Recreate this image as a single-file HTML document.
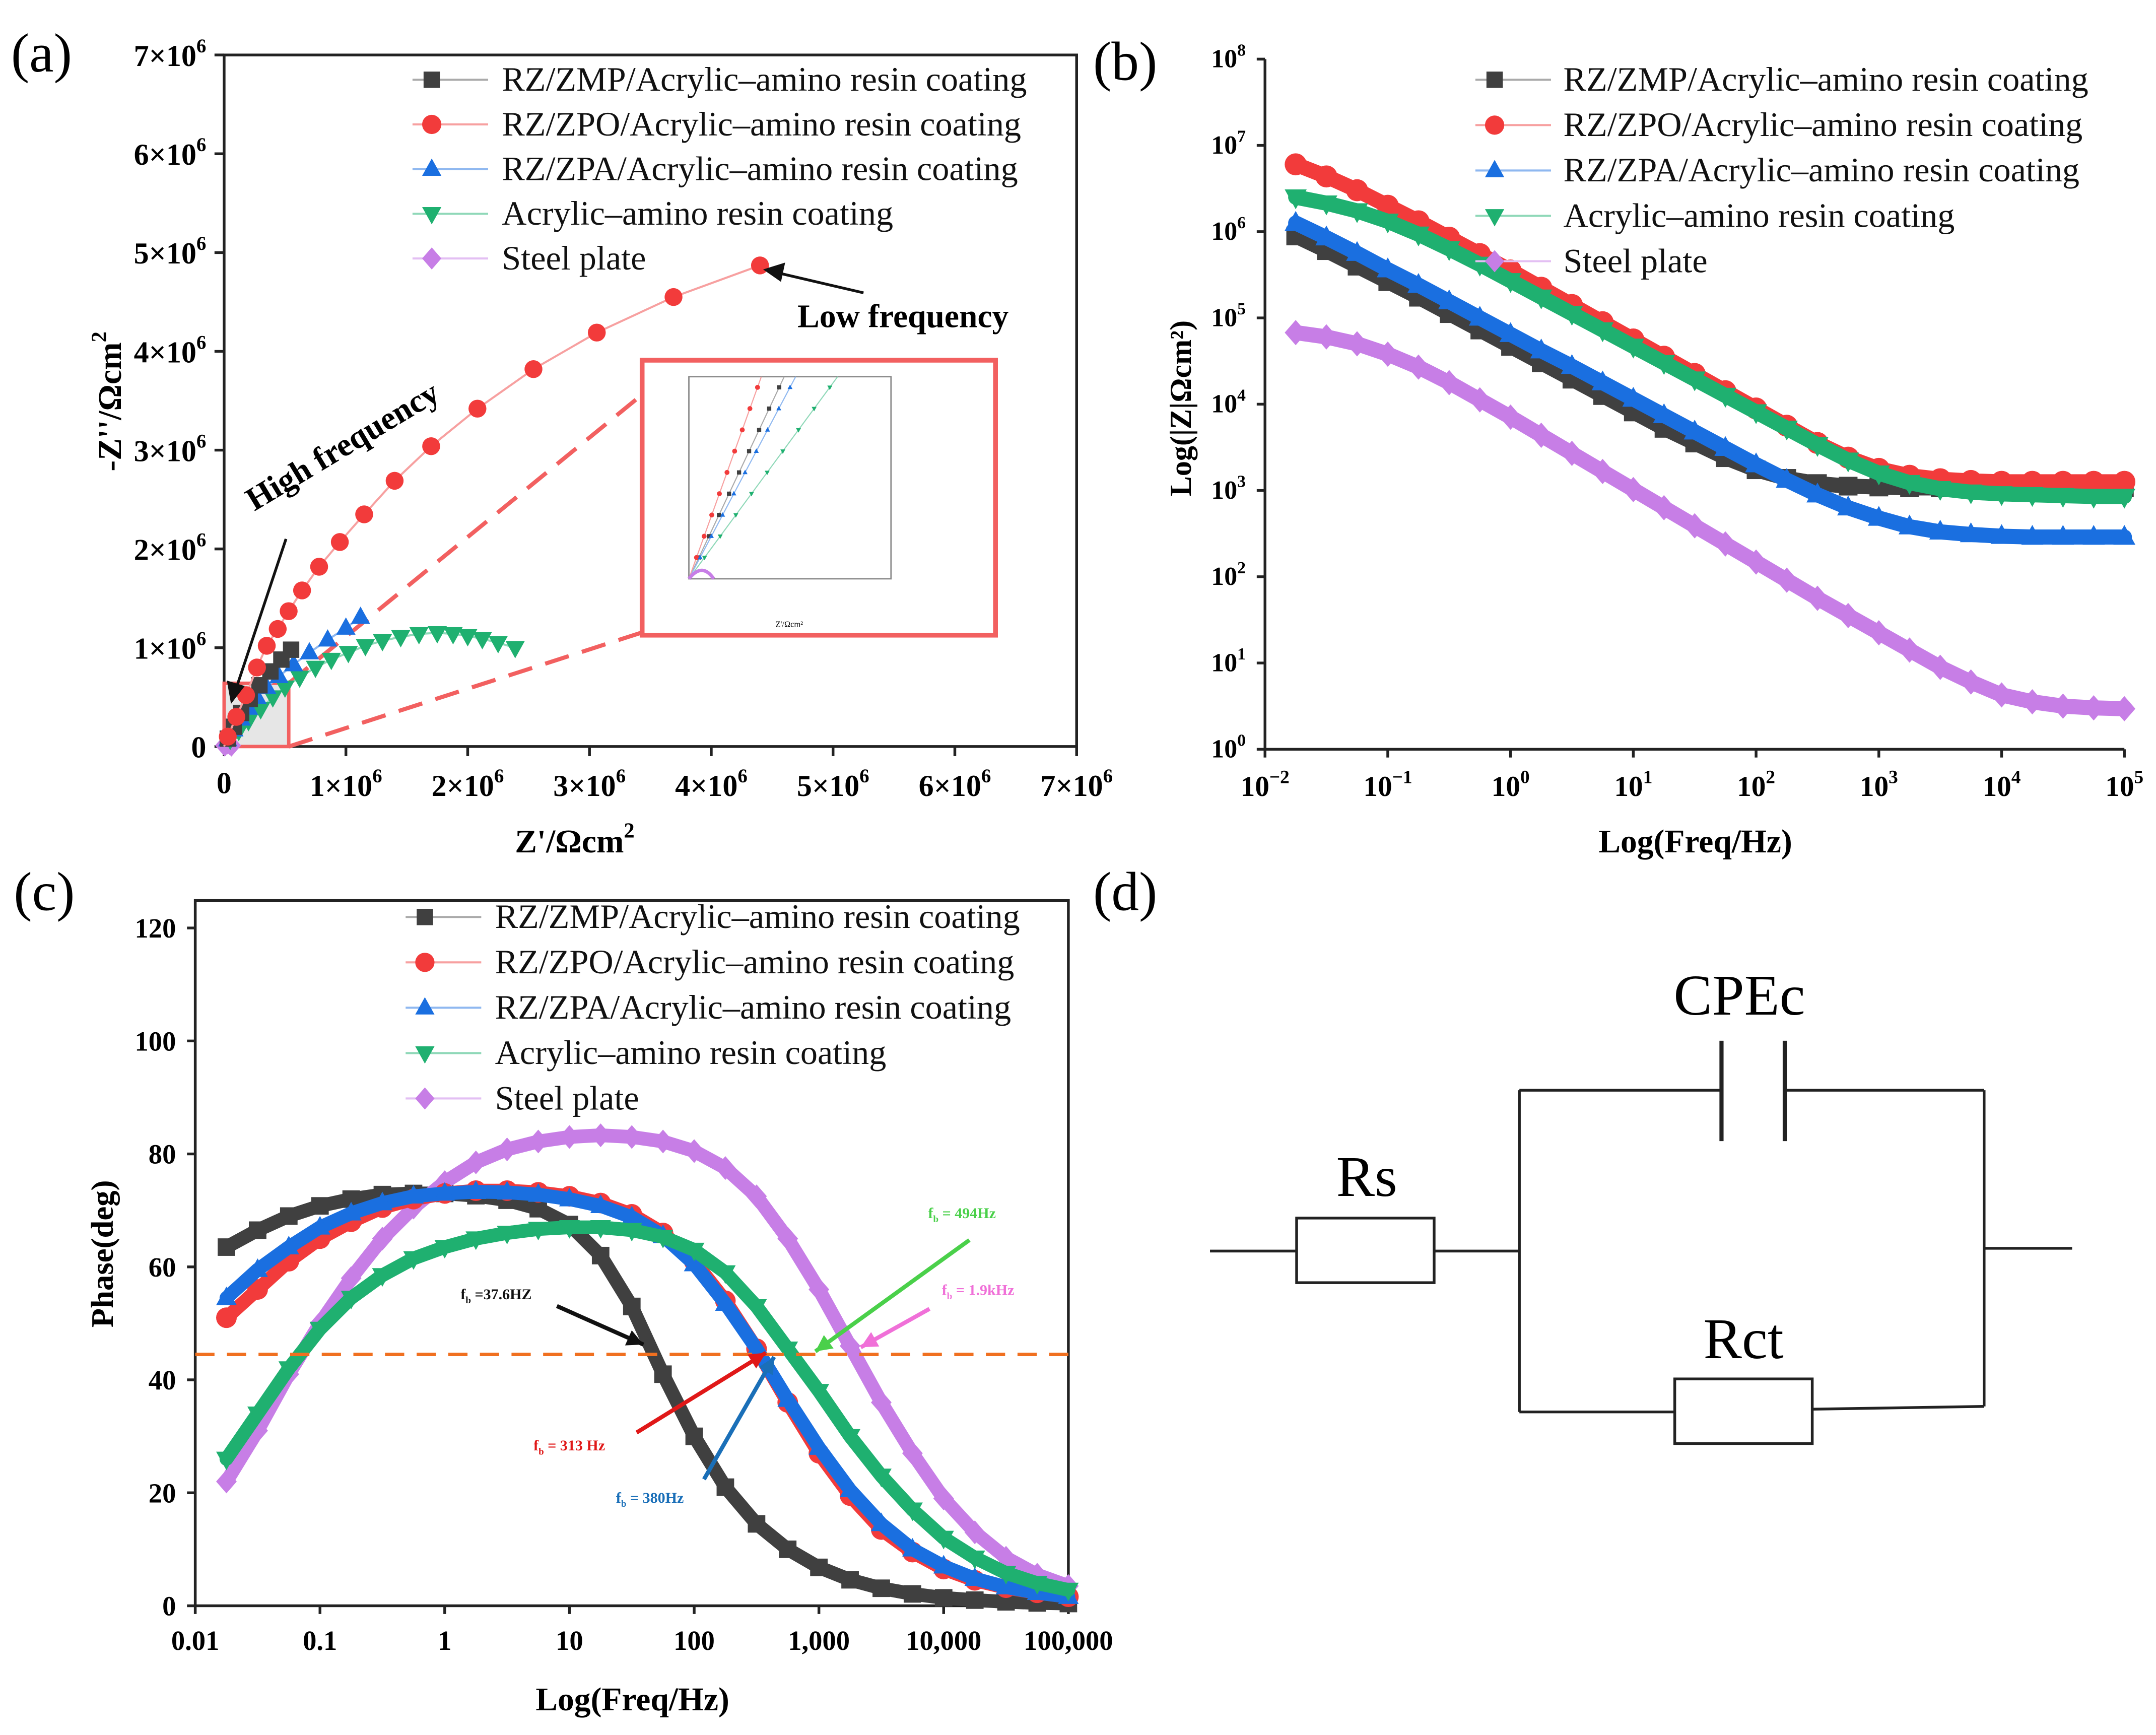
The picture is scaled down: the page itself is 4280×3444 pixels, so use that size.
<!DOCTYPE html>
<html><head><meta charset="utf-8"><style>
html,body{margin:0;padding:0;background:#fff}
svg{display:block}
text{font-family:"Liberation Serif",serif}
</style></head><body>
<svg id="chart" xmlns="http://www.w3.org/2000/svg" width="4280" height="3444" viewBox="0 0 1568 1262" preserveAspectRatio="none">
<rect x="0" y="0" width="1568" height="1262" fill="#fff"/>
<text x="8" y="52" font-size="40">(a)</text>
<text x="795" y="58" font-size="40">(b)</text>
<text x="10" y="662" font-size="40">(c)</text>
<text x="795" y="662" font-size="40">(d)</text>
<g stroke="#222" stroke-width="2" fill="none">
<line x1="880" y1="910" x2="943" y2="910"/>
<rect x="943" y="886" width="100" height="47"/>
<line x1="1043" y1="910" x2="1105" y2="910"/>
<line x1="1105" y1="793" x2="1105" y2="1027"/>
<line x1="1105" y1="793" x2="1252" y2="793"/>
<line x1="1252" y1="757" x2="1252" y2="830" stroke-width="3"/>
<line x1="1298" y1="757" x2="1298" y2="830" stroke-width="3"/>
<line x1="1298" y1="793" x2="1443" y2="793"/>
<line x1="1443" y1="793" x2="1443" y2="1023"/>
<line x1="1443" y1="908" x2="1507" y2="908"/>
<line x1="1105" y1="1027" x2="1218" y2="1027"/>
<rect x="1218" y="1003" width="100" height="47"/>
<line x1="1318" y1="1025" x2="1443" y2="1023"/>
</g>
<text x="1265" y="738" font-size="42" text-anchor="middle">CPEc</text>
<text x="994" y="870" font-size="42" text-anchor="middle">Rs</text>
<text x="1268" y="988" font-size="42" text-anchor="middle">Rct</text>
</svg>
<script>
// ---------- data ----------
// Panel (a) Nyquist, units of 1e6 ohm cm2
const nyqRedRe=[0.03,0.1,0.18,0.27,0.35,0.44,0.53,0.64,0.78,0.95,1.15,1.40,1.70,2.08,2.54,3.06,3.69,4.40];
const nyqRedIm=[0.1,0.3,0.52,0.8,1.02,1.19,1.37,1.58,1.82,2.07,2.35,2.69,3.04,3.42,3.82,4.19,4.55,4.87];
const nyqBlackRe=[0.03,0.08,0.14,0.21,0.29,0.38,0.47,0.55];
const nyqBlackIm=[0.08,0.2,0.34,0.48,0.62,0.76,0.88,0.98];
const nyqBlueRe=[0.03,0.08,0.14,0.2,0.27,0.35,0.45,0.57,0.7,0.85,1.0,1.12];
const nyqBlueIm=[0.07,0.17,0.28,0.39,0.5,0.6,0.71,0.83,0.95,1.08,1.2,1.31];
const nyqGreenRe=[0.05,0.12,0.2,0.3,0.4,0.5,0.62,0.75,0.88,1.02,1.16,1.3,1.45,1.6,1.75,1.88,2.0,2.12,2.25,2.39];
const nyqGreenIm=[0.07,0.16,0.26,0.38,0.5,0.6,0.7,0.8,0.88,0.95,1.02,1.07,1.11,1.14,1.15,1.14,1.12,1.09,1.05,1.0];
const nyqPurpleRe=[0.005,0.015,0.03,0.045,0.06];
const nyqPurpleIm=[0.01,0.025,0.03,0.025,0.01];
const nyqTicks=[0,1,2,3,4,5,6,7];

// Panels (b)/(c) frequency grid (log10 Hz)
const logFreq=[-1.75,-1.5,-1.25,-1,-0.75,-0.5,-0.25,0,0.25,0.5,0.75,1,1.25,1.5,1.75,2,2.25,2.5,2.75,3,3.25,3.5,3.75,4,4.25,4.5,4.75,5];
// Panel (b) log10|Z|
const bodeBlack=[5.95,5.78,5.6,5.42,5.24,5.05,4.86,4.67,4.48,4.29,4.1,3.91,3.72,3.55,3.38,3.24,3.14,3.08,3.05,3.04,3.03,3.03,3.03,3.03,3.03,3.03,3.03,3.03];
const bodeRed=[6.78,6.64,6.48,6.3,6.12,5.93,5.74,5.55,5.35,5.15,4.95,4.75,4.55,4.35,4.15,3.95,3.75,3.55,3.38,3.25,3.17,3.13,3.11,3.1,3.1,3.1,3.1,3.1];
const bodeBlue=[6.1,5.93,5.75,5.56,5.38,5.19,5.0,4.81,4.62,4.44,4.25,4.06,3.87,3.68,3.49,3.3,3.12,2.95,2.8,2.68,2.58,2.52,2.49,2.47,2.46,2.46,2.46,2.46];
const bodeGreen=[6.4,6.33,6.24,6.12,5.97,5.8,5.62,5.43,5.24,5.05,4.86,4.67,4.48,4.29,4.1,3.91,3.72,3.53,3.35,3.2,3.09,3.02,2.98,2.96,2.95,2.94,2.93,2.93];
const bodePurple=[4.83,4.78,4.7,4.58,4.43,4.25,4.05,3.85,3.64,3.43,3.22,3.01,2.8,2.59,2.38,2.17,1.96,1.75,1.55,1.35,1.15,0.95,0.78,0.63,0.55,0.5,0.48,0.47];
const bodeYTicks=[0,1,2,3,4,5,6,7,8];
const bodeXTicks=[-2,-1,0,1,2,3,4,5];
// Panel (c) phase (deg)
const phBlack=[63.5,66.5,69,70.8,72,72.8,73,73,72.6,71.8,70.3,67.5,62,53,41,30,21,14.5,10,6.8,4.6,3.1,2.1,1.4,1,0.7,0.5,0.4];
const phRed=[51,56,61,65,68,70.5,72,73,73.5,73.5,73.2,72.5,71.3,69.3,66,61,54,45.5,36,27,19.5,13.5,9.5,6.5,4.5,3.2,2.3,1.6];
const phBlue=[54.5,59.5,63.5,67,69.5,71.3,72.5,73,73.3,73.2,72.8,72,70.8,68.8,65.5,60.5,53.5,45.5,36.5,28,20.5,14.5,10,7,4.8,3.3,2.3,1.6];
const phGreen=[26,34,42,49,54.5,58.5,61.5,63.5,65,66,66.7,67,67,66.5,65.3,63,59,53,45.5,38,30,23,17,12,8.5,5.8,4,2.8];
const phPurple=[22,31,41,50,58,65,70.5,75,78.5,80.8,82.2,83,83.3,83,82.2,80.5,77.5,72.5,65,56,46,36,27,19,13,8.5,5.5,3.5];
const phYTicks=[0,20,40,60,80,100,120];
const phXTickVals=[-2,-1,0,1,2,3,4,5];
const phXTickLabels=["0.01","0.1","1","10","100","1,000","10,000","100,000"];
const phThreshold=44.5;

const seriesNames=["RZ/ZMP/Acrylic\u2013amino resin coating","RZ/ZPO/Acrylic\u2013amino resin coating","RZ/ZPA/Acrylic\u2013amino resin coating","Acrylic\u2013amino resin coating","Steel plate"];

// ---------- drawing ----------
const NS='http://www.w3.org/2000/svg';
const svg=document.getElementById('chart');
const COL=['#404040','#f23b3b','#1a6fe0','#1fb070','#c77ee6'];
const LCOL=['#aaaaaa','#f7a0a0','#8fb8f0','#8fd8b8','#e3bff3'];
const SHP=['square','circle','tri','tridown','diamond'];
function mk(tag,attrs,parent){const e=document.createElementNS(NS,tag);for(const k in attrs)e.setAttribute(k,attrs[k]);(parent||svg).appendChild(e);return e;}
function shape(s,x,y,r,color,parent){
  let e;
  if(s==='square')e=mk('rect',{x:x-r*0.85,y:y-r*0.85,width:r*1.7,height:r*1.7,fill:color},parent);
  else if(s==='circle')e=mk('circle',{cx:x,cy:y,r:r,fill:color},parent);
  else if(s==='tri')e=mk('polygon',{points:`${x},${y-r*1.1} ${x-r},${y+r*0.7} ${x+r},${y+r*0.7}`,fill:color},parent);
  else if(s==='tridown')e=mk('polygon',{points:`${x},${y+r*1.1} ${x-r},${y-r*0.7} ${x+r},${y-r*0.7}`,fill:color},parent);
  else e=mk('polygon',{points:`${x},${y-r*1.15} ${x+r},${y} ${x},${y+r*1.15} ${x-r},${y}`,fill:color},parent);
  return e;
}
function txt(x,y,s,size,attrs,parent){const t=mk('text',Object.assign({x:x,y:y,'font-size':size},attrs||{}),parent);t.textContent=s;return t;}
function supTxt(x,y,base,exp,size,anchor,weight,parent){
  const t=mk('text',{x:x,y:y,'font-size':size,'text-anchor':anchor||'middle','font-weight':weight||'normal'},parent);
  const a=document.createElementNS(NS,'tspan');a.textContent=base;t.appendChild(a);
  const b=document.createElementNS(NS,'tspan');b.setAttribute('dy',-size*0.45);b.setAttribute('font-size',size*0.65);b.textContent=exp;t.appendChild(b);
  return t;
}
function legend(x0,y0,dy,textX,parent,size){
  for(let i=0;i<5;i++){
    const g=mk('g',{},parent);
    
    
    const y=y0+i*dy;
    mk('line',{x1:x0,y1:y,x2:x0+55,y2:y,stroke:LCOL[i],'stroke-width':1.5},g);
    shape(SHP[i],x0+14,y,7,COL[i],g);
    txt(textX,y+8,seriesNames[i],size,{fill:'#111'},g);
  }
}

// ===== Panel A =====
const aL=163,aR=783,aT=40,aB=543;
const ax=v=>aL+v*(aR-aL)/7, ay=v=>aB-v*(aB-aT)/7;
const gA=mk('g',{});


const frameA=mk('rect',{x:aL,y:aT,width:aR-aL,height:aB-aT,fill:'none',stroke:'#222','stroke-width':2},gA);


const zb=mk('rect',{x:aL,y:497,width:47,height:46,fill:'#e6e6e6',stroke:'#f26060','stroke-width':2.5},gA);


const dl1=mk('line',{x1:210,y1:497,x2:467,y2:287,stroke:'#f26060','stroke-width':3,'stroke-dasharray':'18,10'},gA);


const dl2=mk('line',{x1:210,y1:543,x2:467,y2:460,stroke:'#f26060','stroke-width':3,'stroke-dasharray':'18,10'},gA);


for(const v of nyqTicks){
  let lx, ly;
  if(v===0){lx=txt(ax(0),577,'0',22,{'text-anchor':'middle','font-weight':'bold'},gA);}
  else {lx=supTxt(ax(v),579,v+'\u00d710','6',22,'middle','bold',gA);}
  
  
  if(v===0){ly=txt(150,ay(0)+8,'0',22,{'text-anchor':'end','font-weight':'bold'},gA);}
  else {ly=supTxt(150,ay(v)+8,v+'\u00d710','6',22,'end','bold',gA);}
  
  
  mk('line',{x1:ax(v),y1:aB,x2:ax(v),y2:aB+7,stroke:'#222','stroke-width':2},gA);
  mk('line',{x1:aL,y1:ay(v),x2:aL-7,y2:ay(v),stroke:'#222','stroke-width':2},gA);
}
const aXT=supTxt(418,620,"Z'/\u03a9cm",'2',24,'middle','bold',gA);


const aYT=supTxt(0,0,"-Z''/\u03a9cm",'2',24,'middle','bold',gA);
aYT.setAttribute('transform','translate(88,292) rotate(-90)');


const nyq=[[nyqBlackRe,nyqBlackIm],[nyqRedRe,nyqRedIm],[nyqBlueRe,nyqBlueIm],[nyqGreenRe,nyqGreenIm],[nyqPurpleRe,nyqPurpleIm]];
[4,3,2,0,1].forEach(i=>{
  const g=mk('g',{},gA);
  
  
  const [re,im]=nyq[i];
  const pts=re.map((r,k)=>`${ax(r)},${ay(im[k])}`).join(' ');
  mk('polyline',{points:`${aL},${aB} `+pts,fill:'none',stroke:LCOL[i],'stroke-width':1.5},g);
  re.forEach((r,k)=>{const m=shape(SHP[i],ax(r),ay(im[k]),i===1?6.5:7,COL[i],g);
    
    });
});
legend(300,58,32.5,365,gA,25);
// inset
const inset=mk('g',{},gA);


mk('rect',{x:467,y:262,width:257,height:200,fill:'#fff',stroke:'#f26060','stroke-width':3.5},inset);
const iL=501,iR=648,iT=274,iB=421;
mk('rect',{x:iL,y:iT,width:iR-iL,height:iB-iT,fill:'none',stroke:'#888','stroke-width':1},inset);
const ix=v=>iL+v*(iR-iL)/5.3, iy=v=>iB-v*(iB-iT)/6;
const insetEnds=[[2.5,6],[1.9,6],[2.8,6],[3.9,6]];
[0,1,2,3].forEach(i=>{
  mk('line',{x1:iL,y1:iB,x2:ix(insetEnds[i][0]),y2:iy(insetEnds[i][1]),stroke:LCOL[i],'stroke-width':0.8},inset);
  for(let k=1;k<=9;k++){const f=k/9.5;shape(SHP[i],iL+(ix(insetEnds[i][0])-iL)*f,iB+(iy(6)-iB)*f,1.8,COL[i],inset);}
});
mk('path',{d:`M${iL},${iB} Q${ix(0.35)},${iy(0.5)} ${ix(0.65)},${iB}`,fill:'none',stroke:COL[4],'stroke-width':2.5},inset);
txt(574,456,"Z'/\u03a9cm\u00b2",6,{'text-anchor':'middle'},inset);
// annotations
const hf=txt(0,0,'High frequency',24,{'font-weight':'bold','transform':'translate(185,372) rotate(-31)'},gA);


mk('line',{x1:208,y1:392,x2:172,y2:500,stroke:'#111','stroke-width':2},gA);
mk('polygon',{points:'168,512 165,495 178,499',fill:'#111'},gA);
const lf=txt(580,238,'Low frequency',24,{'font-weight':'bold'},gA);


mk('line',{x1:628,y1:213,x2:568,y2:199,stroke:'#111','stroke-width':2},gA);
mk('polygon',{points:'555,196 571,191 568,205',fill:'#111'},gA);

// ===== Panel B =====
const bL=920,bR=1545,bT=43,bB=545;
const bx=v=>bL+(v+2)*(bR-bL)/7, by=v=>bB-v*(bB-bT)/8;
const gB=mk('g',{});


mk('line',{x1:bL,y1:bT,x2:bL,y2:bB,stroke:'#222','stroke-width':2},gB);
mk('line',{x1:bL,y1:bB,x2:bR,y2:bB,stroke:'#222','stroke-width':2},gB);
for(const v of bodeYTicks){
  mk('line',{x1:bL,y1:by(v),x2:bL-6,y2:by(v),stroke:'#222','stroke-width':2},gB);
  const t=supTxt(906,by(v)+6,'10',String(v),19,'end','bold',gB);
  
  
}
for(const v of bodeXTicks){
  mk('line',{x1:bx(v),y1:bB,x2:bx(v),y2:bB+6,stroke:'#222','stroke-width':2},gB);
  const t=supTxt(bx(v),579,'10',v<0?'\u2212'+(-v):String(v),21,'middle','bold',gB);
  
  
}
const bXT=txt(1233,620,'Log(Freq/Hz)',24,{'text-anchor':'middle','font-weight':'bold'},gB);


const bYT=mk('text',{'font-size':22,'font-weight':'bold','text-anchor':'middle',transform:'translate(866,297) rotate(-90)'},gB);
bYT.textContent='Log(|Z|\u03a9cm\u00b2)';


const bode=[bodeBlack,bodeRed,bodeBlue,bodeGreen,bodePurple];
function drawSeries(g,vals,xf,yf,i,r,w){
  const pts=logFreq.map((f,k)=>`${xf(f)},${yf(vals[k])}`).join(' ');
  mk('polyline',{points:pts,fill:'none',stroke:COL[i],'stroke-width':w,'stroke-linejoin':'round','stroke-linecap':'round'},g);
  logFreq.forEach((f,k)=>{const m=shape(SHP[i],xf(f),yf(vals[k]),r,COL[i],g);
    
    });
}
[4,0,2,1,3].forEach(i=>{
  const g=mk('g',{},gB);
  
  
  drawSeries(g,bode[i],bx,by,i,8,11);
});
legend(1073,58,33,1137,gB,25);

// ===== Panel C =====
const cL=142,cR=777,cT=655,cB=1168;
const cx=v=>cL+(v+2)*(cR-cL)/7, cy=v=>cB-v*(cB-675)/120;
const gC=mk('g',{});


mk('rect',{x:cL,y:cT,width:cR-cL,height:cB-cT,fill:'none',stroke:'#222','stroke-width':2},gC);
phYTicks.forEach(v=>{
  mk('line',{x1:cL,y1:cy(v),x2:cL-6,y2:cy(v),stroke:'#222','stroke-width':2},gC);
  const t=txt(128,cy(v)+7,String(v),20,{'text-anchor':'end','font-weight':'bold'},gC);
  
  
});
phXTickVals.forEach((v,k)=>{
  mk('line',{x1:cx(v),y1:cB,x2:cx(v),y2:cB+6,stroke:'#222','stroke-width':2},gC);
  const t=txt(cx(v),1200,phXTickLabels[k],20,{'text-anchor':'middle','font-weight':'bold'},gC);
  
  
});
const cXT=txt(460,1244,'Log(Freq/Hz)',24,{'text-anchor':'middle','font-weight':'bold'},gC);


const cYT=txt(0,0,'Phase(deg)',23,{'text-anchor':'middle','font-weight':'bold',transform:'translate(82,912) rotate(-90)'},gC);


const ph=[phBlack,phRed,phBlue,phGreen,phPurple];
[0,4,1,2,3].forEach(i=>{
  const g=mk('g',{},gC);
  
  
  drawSeries(g,ph[i],cx,cy,i,7.5,10);
});
const thr=mk('line',{x1:cL,y1:cy(phThreshold),x2:cR,y2:cy(phThreshold),stroke:'#f07020','stroke-width':2.5,'stroke-dasharray':'14,9'},gC);


legend(295,667,33,360,gC,25);
function ann(label,tx,ty,color,x1,y1,x2,y2){
  const t=mk('text',{x:tx,y:ty,'font-size':11,fill:color,'font-weight':'bold'},gC);
  const s1=document.createElementNS(NS,'tspan');s1.textContent='f';t.appendChild(s1);
  const s2=document.createElementNS(NS,'tspan');s2.setAttribute('dy','3');s2.setAttribute('font-size','7');s2.textContent='b';t.appendChild(s2);
  const s3=document.createElementNS(NS,'tspan');s3.setAttribute('dy','-3');s3.textContent=' '+label;t.appendChild(s3);
  
  
  mk('line',{x1:x1,y1:y1,x2:x2,y2:y2,stroke:color,'stroke-width':3},gC);
  const a=Math.atan2(y2-y1,x2-x1),L=12,W=6;
  const bx0=x2-L*Math.cos(a),by0=y2-L*Math.sin(a);
  mk('polygon',{points:`${x2},${y2} ${bx0-W*Math.sin(a)},${by0+W*Math.cos(a)} ${bx0+W*Math.sin(a)},${by0-W*Math.cos(a)}`,fill:color},gC);
}
ann('=37.6HZ',335,945,'#111',405,950,468,978);
ann('= 313 Hz',388,1055,'#e01818',463,1042,557,984);
ann('= 380Hz',448,1093,'#1a6fb8',512,1076,563,987);
ann('= 494Hz',675,886,'#4ad04a',705,902,593,983);
ann('= 1.9kHz',685,942,'#f070d8',676,952,626,980);
</script>
</body></html>
